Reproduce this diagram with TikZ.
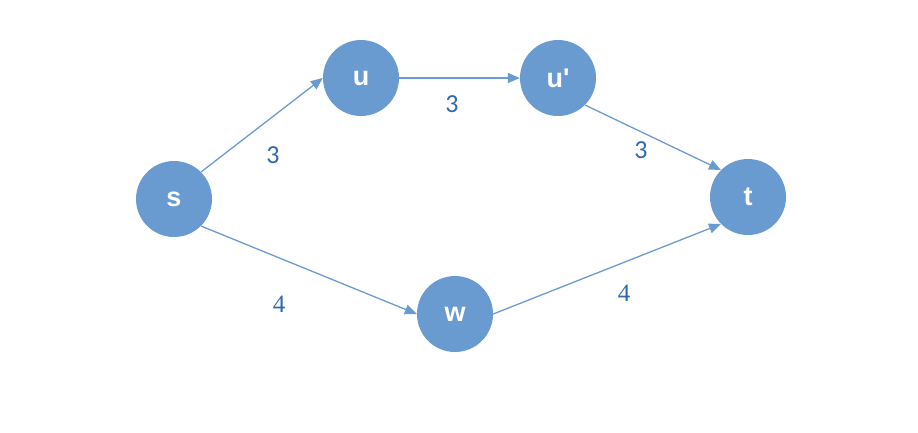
\documentclass[tikz,border=0pt]{standalone}
\usepackage{fontspec}
\newfontfamily\nodefont{Liberation Sans}[Ligatures=TeXOff]
\newfontfamily\lblfont{Carlito}
\newfontfamily\lblserif{Liberation Serif}
\usetikzlibrary{arrows.meta}
\definecolor{nodeblue}{HTML}{6A9BD0}
\definecolor{lblblue}{HTML}{2E6AB1}
\begin{document}
\begin{tikzpicture}[x=1pt,y=-1pt,
  vtx/.style={circle,fill=nodeblue,draw=none,minimum size=76pt,inner sep=0pt,text=white,font=\nodefont\fontsize{27}{27}\selectfont\bfseries},
  edge/.style={draw=nodeblue,line width=1.3pt,-{Triangle[length=12pt,width=10pt]}},
  wlbl/.style={text=lblblue,font=\lblfont\fontsize{26}{26}\selectfont},
  wlbls/.style={text=lblblue,font=\lblserif\fontsize{25}{25}\selectfont}]
\useasboundingbox (0,0) rectangle (918,432);
\node[vtx] (s) at (174,199) {s};
\node[vtx] (u) at (361,78) {u};
\node[vtx] (up) at (558,78) {u'};
\node[vtx] (t) at (748,197) {t};
\node[vtx] (w) at (455,314) {w};
\draw[edge] (s.45) -- (u.west);
\draw[edge] (u.east) -- (up.west);
\draw[edge] (up.-45) -- (t.135);
\draw[edge] (s.-45) -- (w.west);
\draw[edge] (w.east) -- (t.-135);
\node[wlbl] (l1) at (273,155) {3};
\node[wlbl] (l2) at (452,104) {3};
\node[wlbl] (l3) at (641,150) {3};
\node[wlbls] (l4) at (279,304) {\lblserif 4};
\node[wlbls] (l5) at (624,293) {\lblserif 4};
\end{tikzpicture}
\end{document}
